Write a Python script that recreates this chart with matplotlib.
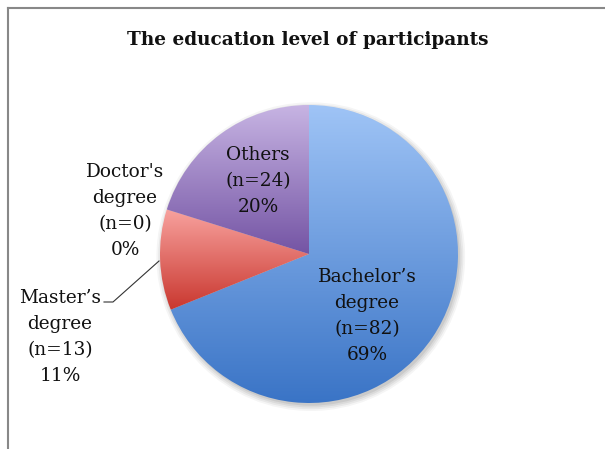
import numpy as np
import matplotlib.pyplot as plt
from matplotlib.colors import LinearSegmentedColormap

# data
labels = ["Bachelor\u2019s\ndegree", "Master\u2019s\ndegree", "Doctor's\ndegree", "Others"]
counts = [82, 13, 0, 24]
pcts = [69, 11, 0, 20]
top_cols = ['#9fc4f6', '#f8a29e', '#d6c9ea', '#c7b4e3']
bot_cols = ['#3a74c6', '#c9372f', '#7a5aa8', '#7454a4']

W, H = 605, 449
cx, cy, R = 309, 254, 149

fig = plt.figure(figsize=(W / 100, H / 100), dpi=100)
ax = fig.add_axes([(cx - R) / W, (H - cy - R) / H, 2 * R / W, 2 * R / H])
ax.set_xlim(-1, 1)
ax.set_ylim(-1, 1)
ax.axis('off')

def px(x, y):
    # pixel position -> pie data coords
    return (x - cx) / R, (cy - y) / R

# soft shadow
for i, a in enumerate([0.04, 0.05, 0.06, 0.07]):
    sh = plt.Circle((0.012, -0.018), 1.0 + 0.012 * (3 - i), color='black',
                    alpha=a, lw=0, zorder=0, clip_on=False)
    ax.add_patch(sh)

wedges, _ = ax.pie(counts, startangle=90, counterclock=False, radius=1,
                   wedgeprops=dict(linewidth=0), colors=bot_cols)

grad = np.linspace(0, 1, 256).reshape(-1, 1)
for w, c0, c1 in zip(wedges, top_cols, bot_cols):
    if w.theta1 == w.theta2:
        continue
    w.set_facecolor('none')
    ext = w.get_path().get_extents()
    cmap = LinearSegmentedColormap.from_list('g', [c0, c1])
    im = ax.imshow(grad, cmap=cmap, aspect='auto', origin='upper',
                   extent=[ext.x0, ext.x1, max(ext.y0, -1), min(ext.y1, 1)], zorder=1)
    im.set_clip_path(w)

ax.set_xlim(-1, 1)
ax.set_ylim(-1, 1)

font = dict(family='DejaVu Serif', fontsize=13.3, color='#111111',
            ha='center', va='center', linespacing=1.55)

def lab(i):
    return f"{labels[i]}\n(n={counts[i]})\n{pcts[i]}%"

ax.text(*px(367, 316), lab(0), clip_on=False, **font)
ax.text(*px(60, 337), lab(1), clip_on=False, **font)
ax.text(*px(125, 211), lab(2), clip_on=False, **font)
ax.text(*px(258, 181), lab(3), clip_on=False, **font)

# leader line for Master's
lx, ly = zip(px(159, 261), px(113, 302), px(104, 302))
ax.plot(lx, ly, color='#333333', lw=0.8, clip_on=False)

fig.text(308 / W, 1 - 40 / H, "The education level of participants",
         family='DejaVu Serif', fontweight='bold', fontsize=13.3,
         ha='center', va='center', color='#111111')

# frame (top and left edges visible)
fig.add_artist(plt.Line2D([8 / W, 1], [1 - 8 / H, 1 - 8 / H], color='#888888', lw=1.5))
fig.add_artist(plt.Line2D([8 / W, 8 / W], [0, 1 - 8 / H], color='#888888', lw=1.5))

fig.savefig('out.png', dpi=100)
